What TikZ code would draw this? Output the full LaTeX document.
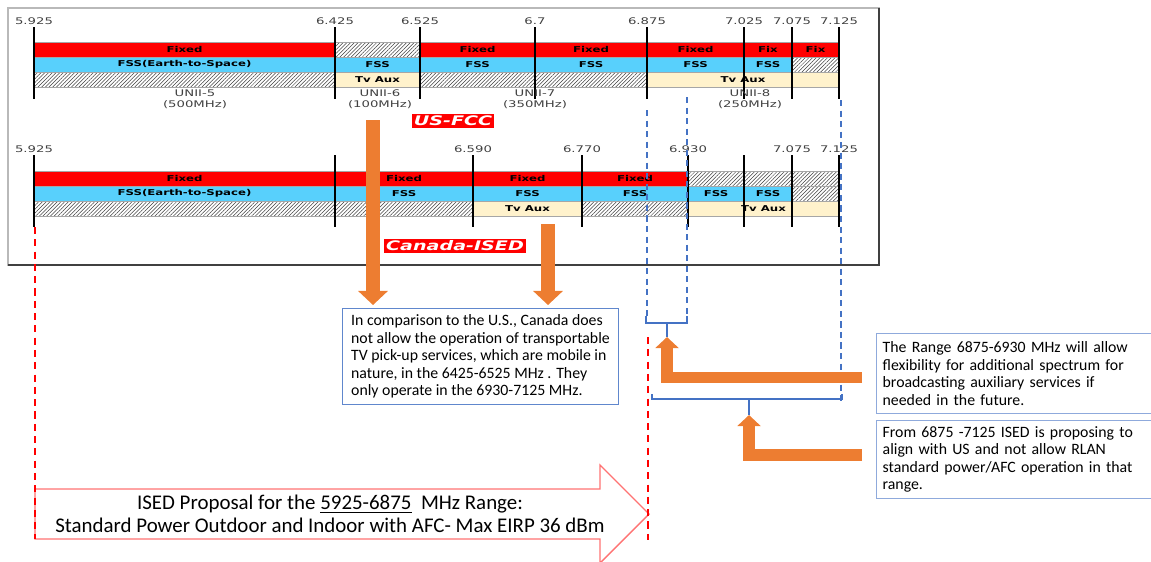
\documentclass[tikz,border=0pt]{standalone}
\usepackage{fontspec}
\setmainfont{Carlito}
\newfontfamily\bandfont[FakeStretch=1.45]{DejaVu Sans}
\usetikzlibrary{arrows.meta,patterns.meta,positioning}

\definecolor{fixedred}{RGB}{255,0,0}
\definecolor{fssblue}{RGB}{88,208,252}
\definecolor{auxcream}{RGB}{255,242,204}
\definecolor{arrorange}{RGB}{237,125,49}
\definecolor{markblue}{RGB}{68,114,196}
\definecolor{boxblue}{RGB}{143,170,220}

\tikzset{
    cell/.style={draw=gray!70, line width=0.3pt, inner sep=0pt, minimum height=0.3cm,
        font=\bandfont\bfseries\fontsize{4.6}{5}\selectfont},
    fixed/.style={cell, fill=fixedred},
    fss/.style={cell, fill=fssblue},
    aux/.style={cell, fill=auxcream},
    hatch/.style={cell, pattern={Lines[angle=45,distance=1.5pt,line width=0.3pt]}, pattern color=black!75},
    tick/.style={line width=1pt},
    freq/.style={font=\bandfont\fontsize{5.2}{6}\selectfont, text=black!75, inner sep=1pt},
    unii/.style={font=\bandfont\fontsize{5.2}{6.3}\selectfont, text=black!75, align=center, inner sep=0pt},
    tag/.style={fill=fixedred, text=white, inner sep=1pt,
        font=\bandfont\bfseries\itshape\fontsize{7.5}{8}\selectfont},
    note/.style={font=\fontsize{9}{10}\selectfont, align=left, anchor=north west, line width=0.6pt},
    drop/.style={draw=arrorange, line width=8.5pt, -{Triangle[width=16.5pt,length=8pt]}},
    elbow/.style={draw=arrorange, line width=6.3pt, line join=miter, -{Triangle[width=13pt,length=6.3pt]}},
    bracket/.style={draw=markblue, line width=0.9pt},
    bluedash/.style={draw=markblue, line width=0.9pt, dash pattern=on 3.5pt off 2.5pt},
    reddash/.style={draw=red, line width=0.9pt, dash pattern=on 4pt off 3pt}
}

\begin{document}
\begin{tikzpicture}[x=0.02cm, y=-0.02cm]
    \useasboundingbox (0,0) rectangle (1151,561);

    % frame round both band plans
    \draw[gray!55, line width=1.3pt] (8,8) rectangle (879,265);
    \draw[black!75, line width=1pt] (879,8) -- (879,265) -- (8,265);

    % US-FCC
    \foreach \a/\b/\y/\sty/\txt [count=\i] in {
        34/335/49.5/fixed/Fixed, 335/420/49.5/hatch/{}, 420/535/49.5/fixed/Fixed,
        535/647/49.5/fixed/Fixed, 647/744/49.5/fixed/Fixed, 744/792/49.5/fixed/Fix,
        792/839/49.5/fixed/Fix,
        34/335/64.5/fss/FSS(Earth-to-Space), 335/420/64.5/fss/FSS, 420/535/64.5/fss/FSS,
        535/647/64.5/fss/FSS, 647/744/64.5/fss/FSS, 744/792/64.5/fss/FSS,
        792/839/64.5/hatch/{},
        34/335/79.5/hatch/{}, 335/420/79.5/aux/Tv Aux, 420/647/79.5/hatch/{},
        647/839/79.5/aux/Tv Aux
    }
        \node[\sty, minimum width={(\b-\a)*0.02cm}] (us\i) at ({(\a+\b)/2},\y) {\txt};

    \foreach \x/\f [count=\i] in {34/5.925, 335/6.425, 420/6.525, 535/6.7,
                                  647/6.875, 744/7.025, 792/7.075, 839/7.125} {
        \coordinate (ust\i) at (\x,27);
        \coordinate (usb\i) at (\x,99);
        \draw[tick] (ust\i) -- (usb\i);
        \node[freq, above=0pt of ust\i] (usf\i) {\f};
    }
    \foreach \x/\u/\w [count=\i] in {195/5/500, 380/6/100, 535/7/350, 750/8/250}
        \node[unii] (unii\i) at (\x,99) {UNII-\u\\(\w MHz)};

    \node[tag] (fcctag) at (453,121) {US-FCC};

    % Canada-ISED
    \foreach \a/\b/\y/\sty/\txt [count=\i] in {
        34/335/178.5/fixed/Fixed, 335/473/178.5/fixed/Fixed, 473/582/178.5/fixed/Fixed,
        582/688/178.5/fixed/Fixed, 688/839/178.5/hatch/{},
        34/335/193.5/fss/FSS(Earth-to-Space), 335/473/193.5/fss/FSS, 473/582/193.5/fss/FSS,
        582/688/193.5/fss/FSS, 688/744/193.5/fss/FSS, 744/792/193.5/fss/FSS,
        792/839/193.5/hatch/{},
        34/473/208.5/hatch/{}, 473/582/208.5/aux/Tv Aux, 582/688/208.5/hatch/{},
        688/839/208.5/aux/Tv Aux
    }
        \node[\sty, minimum width={(\b-\a)*0.02cm}] (ca\i) at ({(\a+\b)/2},\y) {\txt};

    \foreach \x/\f [count=\i] in {34/5.925, 335/{}, 473/6.590, 582/6.770,
                                  688/6.930, 744/{}, 792/7.075, 839/7.125} {
        \coordinate (cat\i) at (\x,155);
        \coordinate (cab\i) at (\x,227);
        \draw[tick] (cat\i) -- (cab\i);
        \node[freq, above=0pt of cat\i] (caf\i) {\f};
    }

    \node[tag] (isedtag) at (455,246) {Canada-ISED};

    % notes
    \node[note, draw=markblue!85, minimum width=5.52cm, minimum height=1.92cm]
        (canbox) at (342,308)
        {In comparison to the U.S., Canada does\\
         not allow the operation of transportable\\
         TV pick-up services, which are mobile in\\
         nature, in the 6425-6525 MHz . They\\
         only operate in the 6930-7125 MHz.};
    \node[note, draw=boxblue, text width=5.29cm, minimum height=1.6cm, inner xsep=3.5pt]
        (flexbox) at (876,333)
        {The Range 6875-6930 MHz will allow\\
         flexibility for additional spectrum for\\
         broadcasting auxiliary services if\\
         needed in the future.};
    \node[note, draw=boxblue, text width=5.29cm, minimum height=1.54cm, inner xsep=3.5pt]
        (alignbox) at (876,420)
        {From 6875 -7125 ISED is proposing to\\
         align with US and not allow RLAN\\
         standard power/AFC operation in that\\
         range.};

    % proposal arrow
    \draw[red!55, line width=0.8pt, fill=white]
        (35,489) -- (600,489) -- (600,465) -- (649,514) -- (600,563) -- (600,539) -- (35,539) -- cycle;
    \node[font=\fontsize{11.9}{12.8}\selectfont, align=center] (proposal) at (330,514)
        {ISED Proposal for the \underline{5925-6875}\ \ MHz Range:\\
         Standard Power Outdoor and Indoor with AFC- Max EIRP 36 dBm};

    % dashed guides and brackets
    \draw[reddash] (35,227) -- (35,539);
    \draw[reddash] (648,337) -- (648,540);
    \draw[bluedash] (647,110) -- (647,318);
    \draw[bluedash] (687,97) -- (687,318);
    \draw[bluedash] (841,100) -- (841,402);

    \coordinate (flexstub) at (667,337);
    \coordinate (alignstub) at (749,415);
    \draw[bracket] (646,316) -- (646,323) -- (687,323) -- (687,316) (667,323) -- (flexstub);
    \draw[bracket] (652,394) -- (652,399) -- (842,399) -- (842,394) (749,399) -- (alignstub);

    % orange arrows
    \coordinate (fcctop) at (373,120);
    \coordinate (auxtop) at (548,224);
    \draw[drop, shorten >=1.7pt] (fcctop) -- (fcctop |- canbox.north);
    \draw[drop, shorten >=1.7pt] (auxtop) -- (auxtop |- canbox.north);

    \coordinate (flextail) at (862,377.5);
    \coordinate (aligntail) at (862,455);
    \draw[elbow] (flextail) -| (flexstub);
    \draw[elbow] (aligntail) -| (alignstub);
\end{tikzpicture}
\end{document}
